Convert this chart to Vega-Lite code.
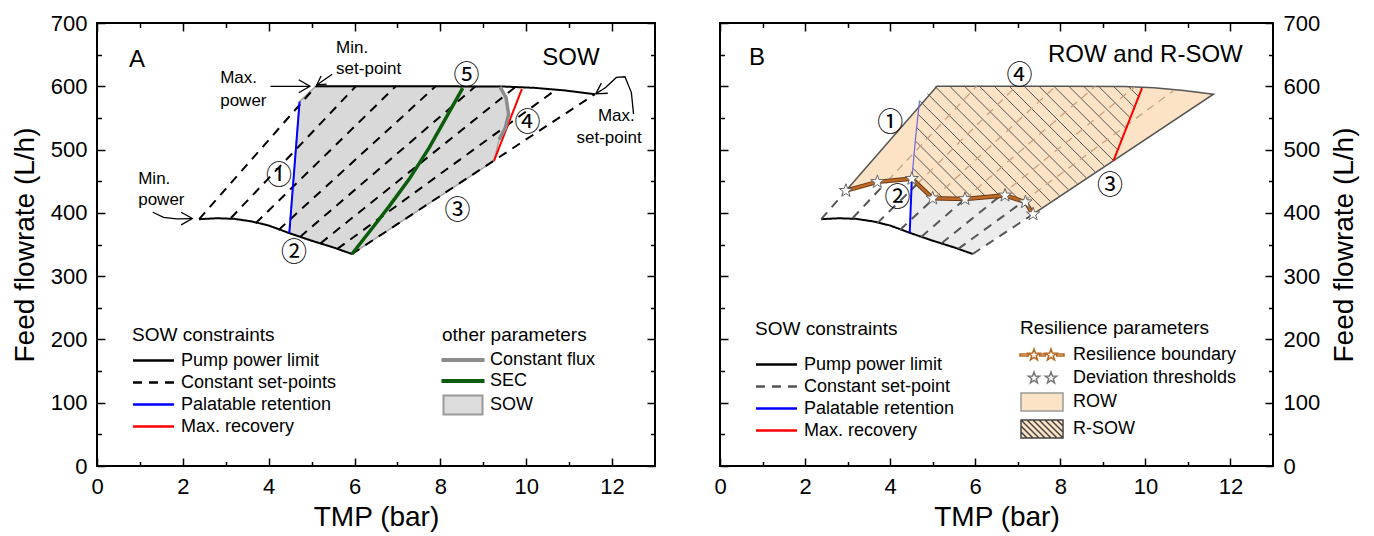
{
  "$schema": "https://vega.github.io/schema/vega-lite/v6.json",
  "background": "white",
  "padding": {"left": 10, "top": 11, "right": 0, "bottom": 0},
  "spacing": 55,
  "config": {
    "font": "Liberation Sans",
    "view": {"stroke": "black", "strokeWidth": 2},
    "axis": {"grid": false, "domain": false, "tickColor": "black", "tickWidth": 1.5, "labelFont": "Liberation Sans", "labelFontSize": 22, "labelColor": "black", "titleFont": "Liberation Sans", "titleFontSize": 28, "titleFontWeight": "normal", "titleColor": "black"},
    "legend": {"labelFont": "Liberation Sans", "labelFontSize": 18, "labelColor": "black", "titleFont": "Liberation Sans", "titleFontSize": 19, "titleFontWeight": "normal", "titleColor": "black", "padding": 0, "rowPadding": 1, "symbolSize": 400, "labelLimit": 400, "titleLimit": 400},
    "line": {"strokeCap": "butt"}
  },
  "resolve": {"scale": {"color": "independent", "strokeDash": "independent", "fill": "independent", "stroke": "independent", "shape": "independent"}},
  "datasets": {
    "sowPoly": [
      {"i": 0, "x": 4.48, "y": 368}, {"i": 1, "x": 4.72, "y": 576}, {"i": 2, "x": 5.10, "y": 600}, {"i": 3, "x": 9.39, "y": 599.5},
      {"i": 4, "x": 9.53, "y": 582}, {"i": 5, "x": 9.59, "y": 556}, {"i": 6, "x": 9.51, "y": 534}, {"i": 7, "x": 9.37, "y": 516},
      {"i": 8, "x": 9.25, "y": 482.3}, {"i": 9, "x": 5.94, "y": 335}, {"i": 10, "x": 5.5, "y": 345.5}, {"i": 11, "x": 5.0, "y": 356}
    ],
    "consA": [
      {"id": "pl", "k": "Pump power limit", "x": 2.38, "y": 390}, {"id": "pl", "k": "Pump power limit", "x": 2.8, "y": 391.5},
      {"id": "pl", "k": "Pump power limit", "x": 3.2, "y": 390.5}, {"id": "pl", "k": "Pump power limit", "x": 3.6, "y": 386.5},
      {"id": "pl", "k": "Pump power limit", "x": 4.0, "y": 380}, {"id": "pl", "k": "Pump power limit", "x": 4.48, "y": 368},
      {"id": "pl", "k": "Pump power limit", "x": 5.0, "y": 356}, {"id": "pl", "k": "Pump power limit", "x": 5.5, "y": 345.5},
      {"id": "pl", "k": "Pump power limit", "x": 5.94, "y": 335},
      {"id": "pu", "k": "Pump power limit", "x": 5.10, "y": 600}, {"id": "pu", "k": "Pump power limit", "x": 6.5, "y": 600},
      {"id": "pu", "k": "Pump power limit", "x": 8.0, "y": 600}, {"id": "pu", "k": "Pump power limit", "x": 9.5, "y": 599.5},
      {"id": "pu", "k": "Pump power limit", "x": 10.2, "y": 597.5}, {"id": "pu", "k": "Pump power limit", "x": 10.9, "y": 593.5},
      {"id": "pu", "k": "Pump power limit", "x": 11.6, "y": 587.5},
      {"id": "f0", "k": "Constant set-points", "x": 2.38, "y": 390}, {"id": "f0", "k": "Constant set-points", "x": 5.10, "y": 600},
      {"id": "f1", "k": "Constant set-points", "x": 3.12, "y": 391.8}, {"id": "f1", "k": "Constant set-points", "x": 6.03, "y": 600},
      {"id": "f2", "k": "Constant set-points", "x": 3.70, "y": 383.8}, {"id": "f2", "k": "Constant set-points", "x": 6.96, "y": 600},
      {"id": "f3", "k": "Constant set-points", "x": 4.23, "y": 373}, {"id": "f3", "k": "Constant set-points", "x": 7.89, "y": 600},
      {"id": "f4", "k": "Constant set-points", "x": 4.73, "y": 362}, {"id": "f4", "k": "Constant set-points", "x": 8.82, "y": 600},
      {"id": "f5", "k": "Constant set-points", "x": 5.21, "y": 352}, {"id": "f5", "k": "Constant set-points", "x": 9.75, "y": 599},
      {"id": "f6", "k": "Constant set-points", "x": 5.60, "y": 343}, {"id": "f6", "k": "Constant set-points", "x": 10.68, "y": 594},
      {"id": "f7", "k": "Constant set-points", "x": 5.94, "y": 335}, {"id": "f7", "k": "Constant set-points", "x": 11.6, "y": 587.5},
      {"id": "b", "k": "Palatable retention", "x": 4.48, "y": 368}, {"id": "b", "k": "Palatable retention", "x": 4.72, "y": 576},
      {"id": "r", "k": "Max. recovery", "x": 9.25, "y": 482.3}, {"id": "r", "k": "Max. recovery", "x": 9.90, "y": 596}
    ],
    "othA": [
      {"p": "Constant flux", "i": 0, "x": 9.39, "y": 599}, {"p": "Constant flux", "i": 1, "x": 9.53, "y": 582},
      {"p": "Constant flux", "i": 2, "x": 9.59, "y": 556}, {"p": "Constant flux", "i": 3, "x": 9.51, "y": 534},
      {"p": "Constant flux", "i": 4, "x": 9.37, "y": 516},
      {"p": "SEC", "i": 0, "x": 5.94, "y": 335}, {"p": "SEC", "i": 1, "x": 6.42, "y": 376.5}, {"p": "SEC", "i": 2, "x": 6.81, "y": 410.7},
      {"p": "SEC", "i": 3, "x": 7.27, "y": 453}, {"p": "SEC", "i": 4, "x": 7.74, "y": 503}, {"p": "SEC", "i": 5, "x": 8.13, "y": 550},
      {"p": "SEC", "i": 6, "x": 8.52, "y": 597}
    ],
    "arrowsA": [
      {"id": "a1", "i": 0, "x": 4.04, "y": 600}, {"id": "a1", "i": 1, "x": 4.96, "y": 600},
      {"id": "a1h", "i": 0, "x": 4.70, "y": 610.3}, {"id": "a1h", "i": 1, "x": 4.96, "y": 600}, {"id": "a1h", "i": 2, "x": 4.70, "y": 589.7},
      {"id": "a2", "i": 0, "x": 5.48, "y": 619}, {"id": "a2", "i": 1, "x": 5.12, "y": 602},
      {"id": "a2h", "i": 0, "x": 5.35, "y": 603.4}, {"id": "a2h", "i": 1, "x": 5.12, "y": 602}, {"id": "a2h", "i": 2, "x": 5.22, "y": 616.4},
      {"id": "a3", "i": 0, "x": 1.30, "y": 401}, {"id": "a3", "i": 1, "x": 1.55, "y": 393}, {"id": "a3", "i": 2, "x": 1.85, "y": 390.5}, {"id": "a3", "i": 3, "x": 2.22, "y": 391},
      {"id": "a3h", "i": 0, "x": 1.96, "y": 401}, {"id": "a3h", "i": 1, "x": 2.22, "y": 391}, {"id": "a3h", "i": 2, "x": 1.96, "y": 381},
      {"id": "a4", "i": 0, "x": 12.5, "y": 556}, {"id": "a4", "i": 1, "x": 12.45, "y": 590}, {"id": "a4", "i": 2, "x": 12.3, "y": 615},
      {"id": "a4", "i": 3, "x": 12.1, "y": 614}, {"id": "a4", "i": 4, "x": 11.85, "y": 598}, {"id": "a4", "i": 5, "x": 11.62, "y": 588},
      {"id": "a4h", "i": 0, "x": 11.90, "y": 589}, {"id": "a4h", "i": 1, "x": 11.62, "y": 588}, {"id": "a4h", "i": 2, "x": 11.75, "y": 605}
    ],
    "bigA": [{"x": 0.93, "y": 642, "t": "A"}, {"x": 11.04, "y": 645, "t": "SOW"}],
    "annAL": [
      {"x": 5.57, "y": 661, "t": "Min."}, {"x": 5.57, "y": 627, "t": "set-point"},
      {"x": 2.87, "y": 613, "t": "Max."}, {"x": 2.87, "y": 577, "t": "power"},
      {"x": 0.96, "y": 453, "t": "Min."}, {"x": 0.96, "y": 421, "t": "power"}
    ],
    "annAC": [{"x": 12.1, "y": 553, "t": "Max."}, {"x": 11.93, "y": 519, "t": "set-point"}],
    "circA": [
      {"x": 4.24, "y": 459, "t": "①"}, {"x": 4.59, "y": 337, "t": "②"}, {"x": 8.40, "y": 403, "t": "③"},
      {"x": 10.03, "y": 542, "t": "④"}, {"x": 8.61, "y": 616, "t": "⑤"}
    ],
    "rowPoly": [
      {"i": 0, "x": 2.96, "y": 435}, {"i": 1, "x": 5.10, "y": 600}, {"i": 2, "x": 6.5, "y": 600}, {"i": 3, "x": 8.0, "y": 600},
      {"i": 4, "x": 9.5, "y": 599.5}, {"i": 5, "x": 10.2, "y": 597.5}, {"i": 6, "x": 10.9, "y": 593.5}, {"i": 7, "x": 11.6, "y": 587.5},
      {"i": 8, "x": 7.36, "y": 398}, {"i": 9, "x": 7.18, "y": 417}, {"i": 10, "x": 6.70, "y": 427.6}, {"i": 11, "x": 5.76, "y": 422},
      {"i": 12, "x": 5.00, "y": 423}, {"i": 13, "x": 4.51, "y": 454}, {"i": 14, "x": 3.70, "y": 449}
    ],
    "grayPoly": [
      {"i": 0, "x": 4.51, "y": 454}, {"i": 1, "x": 5.00, "y": 423}, {"i": 2, "x": 5.76, "y": 422}, {"i": 3, "x": 6.70, "y": 427.6},
      {"i": 4, "x": 7.18, "y": 417}, {"i": 5, "x": 7.36, "y": 398}, {"i": 6, "x": 5.94, "y": 335}, {"i": 7, "x": 5.5, "y": 345.5},
      {"i": 8, "x": 5.0, "y": 356}, {"i": 9, "x": 4.46, "y": 368.5}
    ],
    "hatch": [
      {"id": "h1", "x": 4.533, "y": 470.5}, {"id": "h1", "x": 5.25, "y": 422.7},
      {"id": "h2", "x": 4.565, "y": 491.8}, {"id": "h2", "x": 5.60, "y": 422.2},
      {"id": "h3", "x": 4.60, "y": 513.2}, {"id": "h3", "x": 5.94, "y": 423.1},
      {"id": "h4", "x": 4.63, "y": 534.5}, {"id": "h4", "x": 6.26, "y": 425},
      {"id": "h5", "x": 4.66, "y": 555.6}, {"id": "h5", "x": 6.58, "y": 426.9},
      {"id": "h6", "x": 4.69, "y": 577.1}, {"id": "h6", "x": 7.05, "y": 419.8},
      {"id": "h7", "x": 4.875, "y": 588.3}, {"id": "h7", "x": 7.556, "y": 408.7},
      {"id": "h8", "x": 5.05, "y": 600}, {"id": "h8", "x": 7.767, "y": 418},
      {"id": "h9", "x": 5.4, "y": 600}, {"id": "h9", "x": 7.977, "y": 427.3},
      {"id": "h10", "x": 5.75, "y": 600}, {"id": "h10", "x": 8.188, "y": 436.7},
      {"id": "h11", "x": 6.1, "y": 600}, {"id": "h11", "x": 8.399, "y": 446},
      {"id": "h12", "x": 6.45, "y": 600}, {"id": "h12", "x": 8.61, "y": 455.3},
      {"id": "h13", "x": 6.8, "y": 600}, {"id": "h13", "x": 8.821, "y": 464.6},
      {"id": "h14", "x": 7.15, "y": 600}, {"id": "h14", "x": 9.032, "y": 473.9},
      {"id": "h15", "x": 7.5, "y": 600}, {"id": "h15", "x": 9.243, "y": 483.2},
      {"id": "h16", "x": 7.85, "y": 600}, {"id": "h16", "x": 9.355, "y": 499.2},
      {"id": "h17", "x": 8.2, "y": 600}, {"id": "h17", "x": 9.453, "y": 516.1},
      {"id": "h18", "x": 8.55, "y": 600}, {"id": "h18", "x": 9.551, "y": 532.9},
      {"id": "h19", "x": 8.9, "y": 600}, {"id": "h19", "x": 9.649, "y": 549.8},
      {"id": "h20", "x": 9.25, "y": 600}, {"id": "h20", "x": 9.748, "y": 566.6},
      {"id": "h21", "x": 9.6, "y": 599.5}, {"id": "h21", "x": 9.846, "y": 583.5}
    ],
    "faintB": [
      {"id": "e1", "x": 3.94, "y": 450.6}, {"id": "e1", "x": 6.03, "y": 600},
      {"id": "e2", "x": 4.64, "y": 445.9}, {"id": "e2", "x": 6.96, "y": 600},
      {"id": "e3", "x": 5.03, "y": 423}, {"id": "e3", "x": 7.89, "y": 600},
      {"id": "e4", "x": 5.76, "y": 422}, {"id": "e4", "x": 8.82, "y": 600},
      {"id": "e5", "x": 6.59, "y": 426.9}, {"id": "e5", "x": 9.75, "y": 599},
      {"id": "e6", "x": 7.13, "y": 418}, {"id": "e6", "x": 10.68, "y": 594}
    ],
    "consB": [
      {"id": "pl", "k": "Pump power limit", "x": 2.38, "y": 390}, {"id": "pl", "k": "Pump power limit", "x": 2.8, "y": 391.5},
      {"id": "pl", "k": "Pump power limit", "x": 3.2, "y": 390.5}, {"id": "pl", "k": "Pump power limit", "x": 3.6, "y": 386.5},
      {"id": "pl", "k": "Pump power limit", "x": 4.0, "y": 380}, {"id": "pl", "k": "Pump power limit", "x": 4.48, "y": 368},
      {"id": "pl", "k": "Pump power limit", "x": 5.0, "y": 356}, {"id": "pl", "k": "Pump power limit", "x": 5.5, "y": 345.5},
      {"id": "pl", "k": "Pump power limit", "x": 5.94, "y": 335},
      {"id": "g0", "k": "Constant set-point", "x": 2.38, "y": 390}, {"id": "g0", "k": "Constant set-point", "x": 2.96, "y": 435},
      {"id": "g1", "k": "Constant set-point", "x": 3.12, "y": 391.8}, {"id": "g1", "k": "Constant set-point", "x": 3.94, "y": 450.6},
      {"id": "g2", "k": "Constant set-point", "x": 3.70, "y": 383.8}, {"id": "g2", "k": "Constant set-point", "x": 4.64, "y": 445.9},
      {"id": "g3", "k": "Constant set-point", "x": 4.23, "y": 373}, {"id": "g3", "k": "Constant set-point", "x": 5.03, "y": 423},
      {"id": "g4", "k": "Constant set-point", "x": 4.73, "y": 362}, {"id": "g4", "k": "Constant set-point", "x": 5.76, "y": 422},
      {"id": "g5", "k": "Constant set-point", "x": 5.21, "y": 352}, {"id": "g5", "k": "Constant set-point", "x": 6.59, "y": 426.9},
      {"id": "g6", "k": "Constant set-point", "x": 5.60, "y": 343}, {"id": "g6", "k": "Constant set-point", "x": 7.13, "y": 418},
      {"id": "g7", "k": "Constant set-point", "x": 5.94, "y": 335}, {"id": "g7", "k": "Constant set-point", "x": 7.36, "y": 398},
      {"id": "b", "k": "Palatable retention", "x": 4.46, "y": 368.5}, {"id": "b", "k": "Palatable retention", "x": 4.51, "y": 454},
      {"id": "r", "k": "Max. recovery", "x": 9.25, "y": 482.3}, {"id": "r", "k": "Max. recovery", "x": 9.92, "y": 597}
    ],
    "blueUpB": [{"x": 4.51, "y": 454}, {"x": 4.60, "y": 520}, {"x": 4.69, "y": 577}],
    "rb": [
      {"r": "Resilience boundary", "x": 2.96, "y": 435}, {"r": "Resilience boundary", "x": 3.70, "y": 449},
      {"r": "Resilience boundary", "x": 4.51, "y": 454}, {"r": "Resilience boundary", "x": 5.00, "y": 423},
      {"r": "Resilience boundary", "x": 5.76, "y": 422}, {"r": "Resilience boundary", "x": 6.70, "y": 427.6},
      {"r": "Resilience boundary", "x": 7.18, "y": 417}, {"r": "Resilience boundary", "x": 7.36, "y": 398}
    ],
    "bigB": [{"x": 0.87, "y": 645, "t": "B"}, {"x": 10.0, "y": 650, "t": "ROW and R-SOW"}],
    "circB": [
      {"x": 4.0, "y": 542, "t": "①"}, {"x": 4.17, "y": 424, "t": "②"}, {"x": 9.17, "y": 442, "t": "③"}, {"x": 7.04, "y": 616, "t": "④"}
    ]
  },
  "hconcat": [
    {
      "width": 558,
      "height": 443,
      "encoding": {
        "x": {"field": "x", "type": "quantitative", "scale": {"domain": [0, 13], "nice": false, "zero": false}, "axis": null},
        "y": {"field": "y", "type": "quantitative", "scale": {"domain": [0, 700], "nice": false, "zero": false}, "axis": null}
      },
      "resolve": {"axis": {"x": "independent", "y": "independent"}},
      "layer": [
        {
          "data": {"name": "sowPoly"},
          "mark": {"type": "line", "fill": "#d9d9d9", "stroke": "#a3a3a3", "strokeWidth": 1.5, "interpolate": "linear-closed"},
          "encoding": {
            "x": {"field": "x", "type": "quantitative", "scale": {"domain": [0, 13], "nice": false, "zero": false},
              "axis": {"orient": "bottom", "values": [0, 2, 4, 6, 8, 10, 12], "tickSize": -8, "labelPadding": 18, "labelFlush": false, "labelOverlap": false, "title": "TMP (bar)", "titlePadding": 6}},
            "y": {"field": "y", "type": "quantitative", "scale": {"domain": [0, 700], "nice": false, "zero": false},
              "axis": {"orient": "left", "values": [0, 100, 200, 300, 400, 500, 600, 700], "tickSize": -8, "labelPadding": 18, "labelOverlap": false, "title": "Feed flowrate (L/h)", "titlePadding": 11}},
            "order": {"field": "i"}
          }
        },
        {
          "data": {"name": "consA"},
          "mark": {"type": "line", "strokeWidth": 2},
          "encoding": {
            "x": {"field": "x", "type": "quantitative", "scale": {"domain": [0, 13], "nice": false, "zero": false},
              "axis": {"orient": "top", "values": [0, 2, 4, 6, 8, 10, 12], "tickSize": -8, "labels": false, "title": null}},
            "y": {"field": "y", "type": "quantitative", "scale": {"domain": [0, 700], "nice": false, "zero": false},
              "axis": {"orient": "right", "values": [0, 100, 200, 300, 400, 500, 600, 700], "tickSize": -8, "labels": false, "title": null}},
            "detail": {"field": "id"},
            "color": {"field": "k", "type": "nominal",
              "scale": {"domain": ["Pump power limit", "Constant set-points", "Palatable retention", "Max. recovery"], "range": ["#000000", "#000000", "#0000ff", "#ff0000"]},
              "legend": {"title": "SOW constraints", "orient": "none", "direction": "vertical", "legendX": 35, "legendY": 303, "titlePadding": 4, "symbolType": "M-2.05,0H2.05", "symbolSize": 400, "symbolOffset": 10, "labelOffset": 16, "symbolStrokeWidth": 2.5}},
            "strokeDash": {"field": "k", "type": "nominal",
              "scale": {"domain": ["Pump power limit", "Constant set-points", "Palatable retention", "Max. recovery"], "range": [[1, 0], [9, 7], [1, 0], [1, 0]]},
              "legend": {"title": "SOW constraints", "orient": "none", "direction": "vertical", "legendX": 35, "legendY": 303, "titlePadding": 4, "symbolType": "M-2.05,0H2.05", "symbolSize": 400, "symbolOffset": 10, "labelOffset": 16, "symbolStrokeWidth": 2.5}}
          }
        },
        {
          "data": {"name": "othA"},
          "mark": {"type": "point", "opacity": 0},
          "encoding": {
            "x": {"field": "x", "type": "quantitative", "scale": {"domain": [0, 13], "nice": false, "zero": false},
              "axis": {"orient": "bottom", "values": [1, 3, 5, 7, 9, 11], "tickSize": -4.5, "labels": false, "title": null}},
            "y": {"field": "y", "type": "quantitative", "scale": {"domain": [0, 700], "nice": false, "zero": false},
              "axis": {"orient": "left", "values": [50, 150, 250, 350, 450, 550, 650], "tickSize": -4.5, "labels": false, "title": null}},
            "fill": {"field": "p", "type": "nominal",
              "scale": {"domain": ["Constant flux", "SEC", "SOW"], "range": ["#8c8c8c", "#0b5d0b", "#dcdcdc"]},
              "legend": {"title": "other parameters", "orient": "none", "direction": "vertical", "legendX": 345, "legendY": 303, "titlePadding": 4, "symbolSize": 400, "symbolOffset": 10, "labelOffset": 16, "symbolStrokeWidth": 2, "symbolOpacity": 1}},
            "stroke": {"field": "p", "type": "nominal",
              "scale": {"domain": ["Constant flux", "SEC", "SOW"], "range": ["#8c8c8c", "#0b5d0b", "#9a9a9a"]},
              "legend": {"title": "other parameters", "orient": "none", "direction": "vertical", "legendX": 345, "legendY": 303, "titlePadding": 4, "symbolSize": 400, "symbolOffset": 10, "labelOffset": 16, "symbolStrokeWidth": 2, "symbolOpacity": 1}},
            "shape": {"field": "p", "type": "nominal",
              "scale": {"domain": ["Constant flux", "SEC", "SOW"], "range": ["M-2.05,-0.1H2.05V0.1H-2.05Z", "M-2.05,-0.1H2.05V0.1H-2.05Z", "M-1.95,-0.95H1.95V0.95H-1.95Z"]},
              "legend": {"title": "other parameters", "orient": "none", "direction": "vertical", "legendX": 345, "legendY": 303, "titlePadding": 4, "symbolSize": 400, "symbolOffset": 10, "labelOffset": 16, "symbolStrokeWidth": 2, "symbolOpacity": 1}}
          }
        },
        {
          "data": {"name": "othA"},
          "transform": [{"filter": "datum.p === 'Constant flux'"}],
          "mark": {"type": "line", "color": "#8c8c8c", "strokeWidth": 3.5},
          "encoding": {"order": {"field": "i"}}
        },
        {
          "data": {"name": "othA"},
          "transform": [{"filter": "datum.p === 'SEC'"}],
          "mark": {"type": "line", "color": "#0b5d0b", "strokeWidth": 3.5},
          "encoding": {"order": {"field": "i"}}
        },
        {
          "data": {"name": "arrowsA"},
          "mark": {"type": "line", "color": "black", "strokeWidth": 1.3},
          "encoding": {
            "x": {"field": "x", "type": "quantitative", "scale": {"domain": [0, 13], "nice": false, "zero": false},
              "axis": {"orient": "top", "values": [1, 3, 5, 7, 9, 11], "tickSize": -4.5, "labels": false, "title": null}},
            "y": {"field": "y", "type": "quantitative", "scale": {"domain": [0, 700], "nice": false, "zero": false},
              "axis": {"orient": "right", "values": [50, 150, 250, 350, 450, 550, 650], "tickSize": -4.5, "labels": false, "title": null}},
            "detail": {"field": "id"},
            "order": {"field": "i"}
          }
        },
        {
          "data": {"name": "bigA"},
          "mark": {"type": "text", "fontSize": 24, "font": "Liberation Sans", "color": "black", "align": "center", "baseline": "middle"},
          "encoding": {"text": {"field": "t"}}
        },
        {
          "data": {"name": "annAL"},
          "mark": {"type": "text", "fontSize": 17, "font": "Liberation Sans", "color": "black", "align": "left", "baseline": "middle"},
          "encoding": {"text": {"field": "t"}}
        },
        {
          "data": {"name": "annAC"},
          "mark": {"type": "text", "fontSize": 17, "font": "Liberation Sans", "color": "black", "align": "center", "baseline": "middle"},
          "encoding": {"text": {"field": "t"}}
        },
        {
          "data": {"name": "circA"},
          "mark": {"type": "text", "fontSize": 26, "font": "Noto Sans CJK JP", "color": "black", "align": "center", "baseline": "middle"},
          "encoding": {"text": {"field": "t"}}
        }
      ]
    },
    {
      "width": 553,
      "height": 443,
      "encoding": {
        "x": {"field": "x", "type": "quantitative", "scale": {"domain": [0, 13], "nice": false, "zero": false}, "axis": null},
        "y": {"field": "y", "type": "quantitative", "scale": {"domain": [0, 700], "nice": false, "zero": false}, "axis": null}
      },
      "resolve": {"axis": {"x": "independent", "y": "independent"}},
      "layer": [
        {
          "data": {"name": "rowPoly"},
          "mark": {"type": "line", "fill": "#fde3c5", "stroke": "#555555", "strokeWidth": 1.5, "interpolate": "linear-closed"},
          "encoding": {
            "x": {"field": "x", "type": "quantitative", "scale": {"domain": [0, 13], "nice": false, "zero": false},
              "axis": {"orient": "bottom", "values": [0, 2, 4, 6, 8, 10, 12], "tickSize": -8, "labelPadding": 18, "labelFlush": false, "labelOverlap": false, "title": "TMP (bar)", "titlePadding": 6}},
            "y": {"field": "y", "type": "quantitative", "scale": {"domain": [0, 700], "nice": false, "zero": false},
              "axis": {"orient": "right", "values": [0, 100, 200, 300, 400, 500, 600, 700], "tickSize": -8, "labelPadding": 18, "labelOverlap": false, "title": "Feed flowrate (L/h)", "titlePadding": 11, "titleAngle": 270, "titleBaseline": "top"}},
            "order": {"field": "i"}
          }
        },
        {
          "data": {"name": "grayPoly"},
          "mark": {"type": "line", "fill": "#ececec", "strokeWidth": 0, "interpolate": "linear-closed"},
          "encoding": {
            "x": {"field": "x", "type": "quantitative", "scale": {"domain": [0, 13], "nice": false, "zero": false},
              "axis": {"orient": "top", "values": [0, 2, 4, 6, 8, 10, 12], "tickSize": -8, "labels": false, "title": null}},
            "y": {"field": "y", "type": "quantitative", "scale": {"domain": [0, 700], "nice": false, "zero": false},
              "axis": {"orient": "left", "values": [0, 100, 200, 300, 400, 500, 600, 700], "tickSize": -8, "labels": false, "title": null}},
            "order": {"field": "i"}
          }
        },
        {
          "data": {"name": "hatch"},
          "mark": {"type": "line", "color": "#555555", "strokeWidth": 1},
          "encoding": {
            "x": {"field": "x", "type": "quantitative", "scale": {"domain": [0, 13], "nice": false, "zero": false},
              "axis": {"orient": "bottom", "values": [1, 3, 5, 7, 9, 11], "tickSize": -4.5, "labels": false, "title": null}},
            "y": {"field": "y", "type": "quantitative", "scale": {"domain": [0, 700], "nice": false, "zero": false},
              "axis": {"orient": "left", "values": [50, 150, 250, 350, 450, 550, 650], "tickSize": -4.5, "labels": false, "title": null}},
            "detail": {"field": "id"}
          }
        },
        {
          "data": {"name": "faintB"},
          "mark": {"type": "line", "color": "#c4a384", "strokeWidth": 1.3, "strokeDash": [8, 6]},
          "encoding": {
            "x": {"field": "x", "type": "quantitative", "scale": {"domain": [0, 13], "nice": false, "zero": false},
              "axis": {"orient": "top", "values": [1, 3, 5, 7, 9, 11], "tickSize": -4.5, "labels": false, "title": null}},
            "y": {"field": "y", "type": "quantitative", "scale": {"domain": [0, 700], "nice": false, "zero": false},
              "axis": {"orient": "right", "values": [50, 150, 250, 350, 450, 550, 650], "tickSize": -4.5, "labels": false, "title": null}},
            "detail": {"field": "id"}
          }
        },
        {
          "data": {"name": "consB"},
          "mark": {"type": "line", "strokeWidth": 2},
          "encoding": {
            "detail": {"field": "id"},
            "color": {"field": "k", "type": "nominal",
              "scale": {"domain": ["Pump power limit", "Constant set-point", "Palatable retention", "Max. recovery"], "range": ["#000000", "#555555", "#0000ff", "#ff0000"]},
              "legend": {"title": "SOW constraints", "orient": "none", "direction": "vertical", "legendX": 35, "legendY": 297, "titlePadding": 14, "symbolType": "M-2.05,0H2.05", "symbolSize": 400, "symbolOffset": 10, "labelOffset": 16, "symbolStrokeWidth": 2.5}},
            "strokeDash": {"field": "k", "type": "nominal",
              "scale": {"domain": ["Pump power limit", "Constant set-point", "Palatable retention", "Max. recovery"], "range": [[1, 0], [9, 7], [1, 0], [1, 0]]},
              "legend": {"title": "SOW constraints", "orient": "none", "direction": "vertical", "legendX": 35, "legendY": 297, "titlePadding": 14, "symbolType": "M-2.05,0H2.05", "symbolSize": 400, "symbolOffset": 10, "labelOffset": 16, "symbolStrokeWidth": 2.5}}
          }
        },
        {
          "data": {"name": "blueUpB"},
          "mark": {"type": "line", "color": "#6a6ad8", "strokeWidth": 1.2}
        },
        {
          "data": {"name": "rb"},
          "mark": {"type": "line", "color": "#6b3a12", "strokeWidth": 4.5}
        },
        {
          "data": {"name": "rb"},
          "mark": {"type": "line", "color": "#c06a28", "strokeWidth": 2.5}
        },
        {
          "data": {"name": "rb"},
          "mark": {"type": "point", "shape": "M0,-1L0.235,-0.324L0.951,-0.309L0.38,0.124L0.588,0.809L0,0.4L-0.588,0.809L-0.38,0.124L-0.951,-0.309L-0.235,-0.324Z", "filled": true, "fill": "white", "stroke": "#666666", "strokeWidth": 1, "size": 196, "opacity": 1}
        },
        {
          "data": {"name": "rb"},
          "mark": {"type": "point", "opacity": 0},
          "encoding": {
            "fill": {"field": "r", "type": "nominal",
              "scale": {"domain": ["Resilience boundary", "Deviation thresholds", "ROW", "R-SOW"], "range": ["#ffffff", "#ffffff", "#fde3c5", "#fde3c5"]},
              "legend": {"title": "Resilience parameters", "orient": "none", "direction": "vertical", "legendX": 300, "legendY": 296, "titlePadding": 6, "symbolSize": 400, "symbolOffset": 11, "labelOffset": 20, "rowPadding": 3, "symbolStrokeWidth": 1.5, "symbolOpacity": 1}},
            "stroke": {"field": "r", "type": "nominal",
              "scale": {"domain": ["Resilience boundary", "Deviation thresholds", "ROW", "R-SOW"], "range": ["#b5651d", "#777777", "#9a9a9a", "#444444"]},
              "legend": {"title": "Resilience parameters", "orient": "none", "direction": "vertical", "legendX": 300, "legendY": 296, "titlePadding": 6, "symbolSize": 400, "symbolOffset": 11, "labelOffset": 20, "rowPadding": 3, "symbolStrokeWidth": 1.5, "symbolOpacity": 1}},
            "shape": {"field": "r", "type": "nominal",
              "scale": {"domain": ["Resilience boundary", "Deviation thresholds", "ROW", "R-SOW"], "range": [
                "M-2.2,-0.1H-1.37V0.1H-2.2ZM-0.23,-0.1H0.33V0.1H-0.23ZM1.47,-0.1H2.2V0.1H1.47ZM-0.8,-0.6L-0.659,-0.194L-0.229,-0.185L-0.572,0.074L-0.447,0.485L-0.8,0.24L-1.153,0.485L-1.028,0.074L-1.371,-0.185L-0.941,-0.194ZM0.9,-0.6L1.041,-0.194L1.471,-0.185L1.128,0.074L1.253,0.485L0.9,0.24L0.547,0.485L0.672,0.074L0.329,-0.185L0.759,-0.194Z",
                "M-0.8,-0.6L-0.659,-0.194L-0.229,-0.185L-0.572,0.074L-0.447,0.485L-0.8,0.24L-1.153,0.485L-1.028,0.074L-1.371,-0.185L-0.941,-0.194ZM0.9,-0.6L1.041,-0.194L1.471,-0.185L1.128,0.074L1.253,0.485L0.9,0.24L0.547,0.485L0.672,0.074L0.329,-0.185L0.759,-0.194Z",
                "M-2.1,-0.9H2.1V0.9H-2.1Z",
                "M-2.1,-0.9H2.1V0.9H-2.1ZM-2.1,-0.9L-0.3,0.9M-1.5,-0.9L0.3,0.9M-0.9,-0.9L0.9,0.9M-0.3,-0.9L1.5,0.9M0.3,-0.9L2.1,0.9M0.9,-0.9L2.1,0.3M1.5,-0.9L2.1,-0.3M-2.1,-0.3L-0.9,0.9M-2.1,0.3L-1.5,0.9"
              ]},
              "legend": {"title": "Resilience parameters", "orient": "none", "direction": "vertical", "legendX": 300, "legendY": 296, "titlePadding": 6, "symbolSize": 400, "symbolOffset": 11, "labelOffset": 20, "rowPadding": 3, "symbolStrokeWidth": 1.5, "symbolOpacity": 1}}
          }
        },
        {
          "data": {"name": "bigB"},
          "mark": {"type": "text", "fontSize": 24, "font": "Liberation Sans", "color": "black", "align": "center", "baseline": "middle"},
          "encoding": {"text": {"field": "t"}}
        },
        {
          "data": {"name": "circB"},
          "mark": {"type": "text", "fontSize": 26, "font": "Noto Sans CJK JP", "color": "black", "align": "center", "baseline": "middle"},
          "encoding": {"text": {"field": "t"}}
        }
      ]
    }
  ]
}
